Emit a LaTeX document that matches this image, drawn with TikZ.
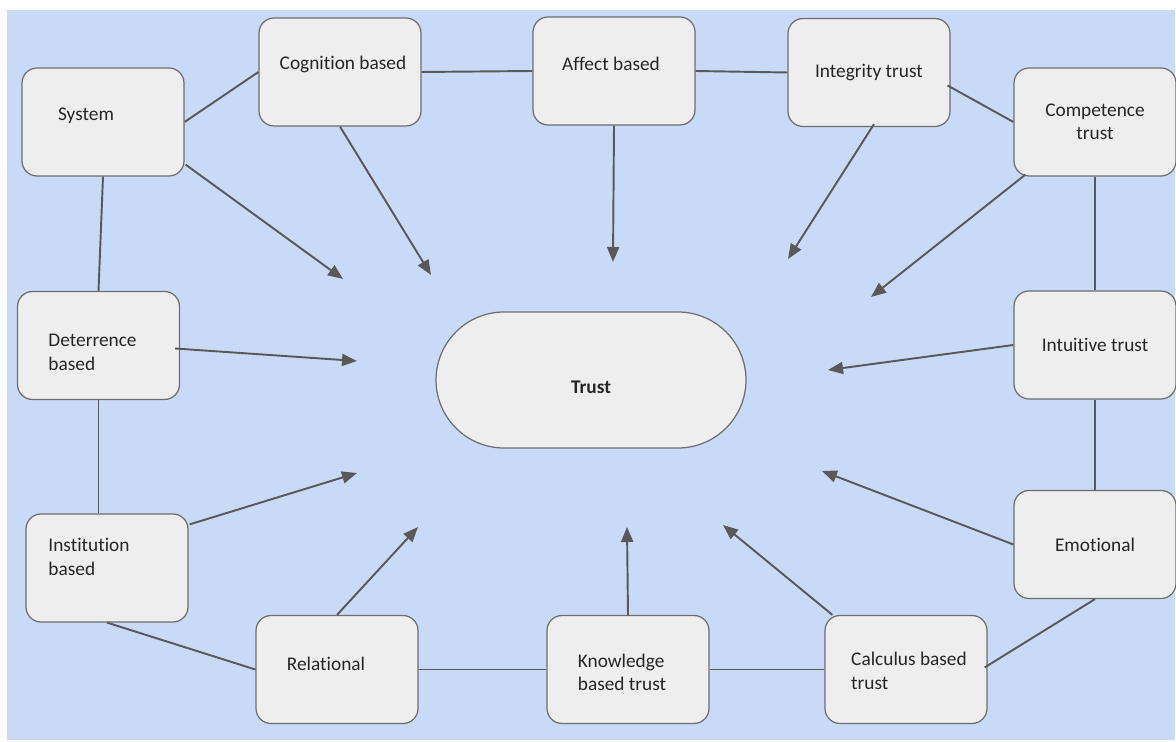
\documentclass[tikz,border=0pt]{standalone}
\usepackage{fontspec}
\setmainfont{Carlito}[Ligatures=NoCommon]
\usepackage{tikz}
\usetikzlibrary{calc,arrows.meta}

\definecolor{bgblue}{RGB}{201,218,248}
\definecolor{boxgray}{RGB}{238,238,238}
\definecolor{linegray}{RGB}{89,89,89}
\definecolor{edgegray}{RGB}{110,110,110}

\tikzset{
  box/.style={draw=edgegray, fill=boxgray, rounded corners=0.3cm, line width=0.7pt,
              minimum width=3.24cm, minimum height=2.16cm, inner sep=0pt},
  every label/.style={font=\fontsize{11}{13.4}\selectfont, text=black!85},
  link/.style={draw=linegray, line width=1.1pt},
  feed/.style={link, -{Triangle[length=0.3cm,width=0.24cm]}},
}

\begin{document}
\begin{tikzpicture}[x=0.02cm, y=-0.02cm]
    \useasboundingbox (0,0) rectangle (1176,742);
    \fill [bgblue] (7,10) rectangle (1175,740);

    % outer ring of boxes
    \node [box, label={[xshift=-0.34cm, yshift=0.12cm]center:System}] (sys) at (103,122) {};
    \node [box, label={[xshift=0.06cm, yshift=0.16cm]center:Cognition based}] (cog) at (340,72) {};
    \node [box, label={[xshift=-0.06cm, yshift=0.14cm]center:Affect based}] (aff) at (614,71) {};
    \node [box, label={center:Integrity trust}] (int) at (869,72.5) {};
    \node [box, label={[align=center]center:Competence\\trust}] (com) at (1095,122) {};
    \node [box, label={center:Intuitive trust}] (intu) at (1095,345) {};
    \node [box, label={center:Emotional}] (emo) at (1095,544.5) {};
    \node [box, label={[align=left, xshift=0.06cm, yshift=-0.03cm]center:Calculus based\\trust}] (cal) at (906,669.5) {};
    \node [box, label={[align=left, xshift=-0.12cm, yshift=-0.06cm]center:Knowledge\\based trust}] (kno) at (628,669.5) {};
    \node [box, label={[xshift=-0.22cm, yshift=0.12cm]center:Relational}] (rel) at (337,669.5) {};
    \node [box, label={[align=left, xshift=-0.36cm, yshift=0.22cm]center:Institution\\based}] (ins) at (107,568) {};
    \node [box, label={[align=left, xshift=-0.12cm, yshift=-0.14cm]center:Deterrence\\based}] (det) at (98.5,345.5) {};

    % centre
    \node [box, minimum width=6.2cm, minimum height=2.72cm, rounded corners=1.36cm,
           label={[yshift=-0.14cm]center:\textbf{Trust}}] (trust) at (591,380) {};

    % ring links
    \draw [link] (sys.east) -- (cog.west);
    \draw [link] (cog.east) -- (aff.west);
    \draw [link] (aff.east) -- (int.west);
    \draw [link] ($(int.east)+(-3,13)$) -- (com.west);
    \draw [link] (com.south) -- (intu.north);
    \draw [link] (intu.south) -- (emo.north);
    \draw [link] (emo.south) -- ($(cal.east)+(-3,-2)$);
    \draw [link] (cal.west) -- (kno.east);
    \draw [link] (kno.west) -- (rel.east);
    \draw [link] (rel.west) -- (ins.south);
    \draw [link] (det.south) -- (det.south |- ins.north);
    \draw [link] (det.north) -- (sys.south);

    % arrow ends
    \coordinate (p1) at (343,279);
    \coordinate (p2) at (431,275);
    \coordinate (p3) at (613,262);
    \coordinate (p4) at (788,259);
    \coordinate (p5) at (871,297);
    \coordinate (p6) at (828,370);
    \coordinate (p7) at (822,471);
    \coordinate (p8) at (723,525);
    \coordinate (p9) at (627,527);
    \coordinate (p10) at (418,527);
    \coordinate (p11) at (357,473);
    \coordinate (p12) at (357,361);

    % arrows toward trust
    \draw [feed] ($(sys.south east)+(1,-12)$) -- (p1);
    \draw [feed] (cog.south) -- (p2);
    \draw [feed] (aff.south) -- (p3);
    \draw [feed] ($(int.south)+(5,-3)$) -- (p4);
    \draw [feed] ($(com.south west)+(12,-2)$) -- (p5);
    \draw [feed] (intu.west) -- (p6);
    \draw [feed] (emo.west) -- (p7);
    \draw [feed] ($(cal.north west)+(8,0)$) -- (p8);
    \draw [feed] (kno.north) -- (p9);
    \draw [feed] (rel.north) -- (p10);
    \draw [feed] ($(ins.north east)+(1,11)$) -- (p11);
    \draw [feed] ($(det.east)+(-5,3)$) -- (p12);
\end{tikzpicture}
\end{document}
